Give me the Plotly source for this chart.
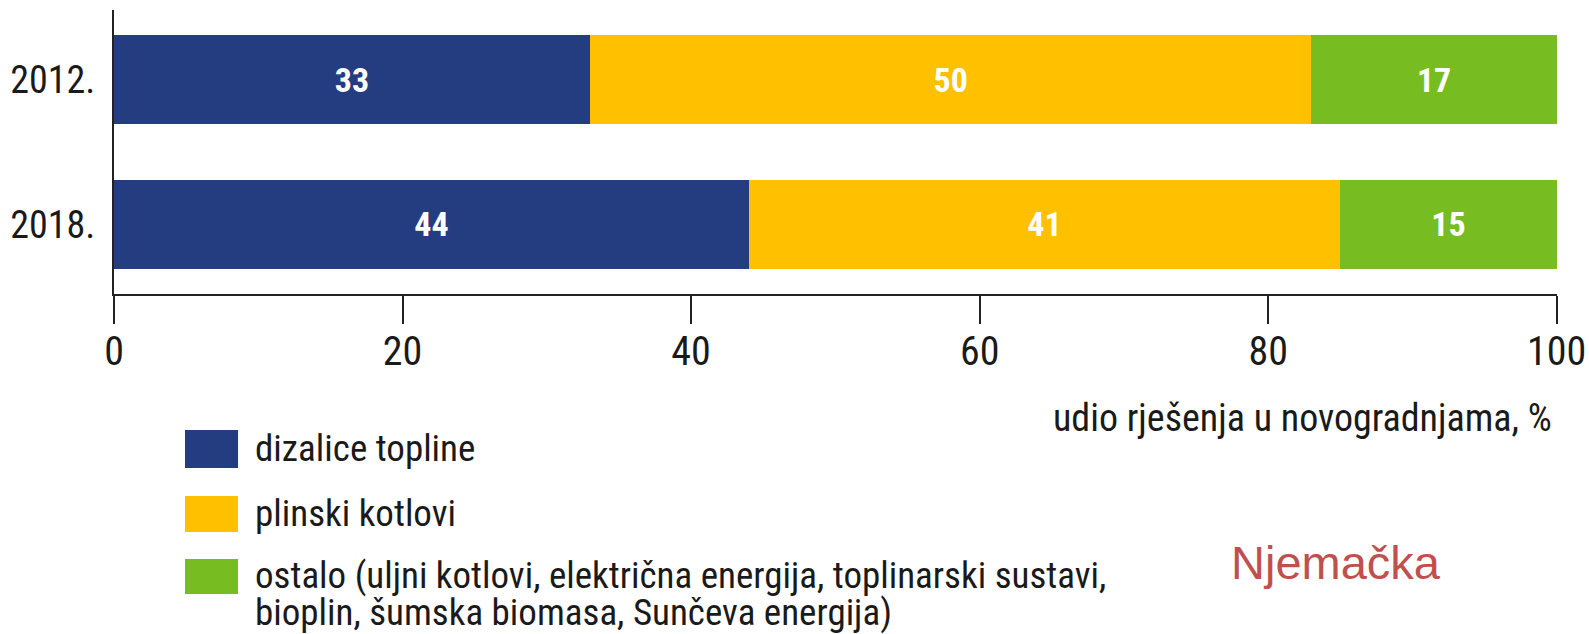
import plotly.graph_objects as go

categories = ["2012.", "2018."]
series_names = ["dizalice topline", "plinski kotlovi", "ostalo"]
legend_lines = [
    ["dizalice topline"],
    ["plinski kotlovi"],
    ["ostalo (uljni kotlovi, električna energija, toplinarski sustavi,",
     "bioplin, šumska biomasa, Sunčeva energija)"],
]
dizalice = [33, 44]
plinski = [50, 41]
ostalo = [17, 15]
colors = ["#243C80", "#FFC000", "#77BD22"]
x_ticks = [0, 20, 40, 60, 80, 100]
x_ticktext = ["0", "20", "40", "60", "80", "100"]
x_title = "udio rješenja u novogradnjama, %"
country = "Njemačka"

W, H = 1589, 634
# plot area in window pixels
PX0, PX1, PY0, PY1 = 114, 1557, 10, 294
L, R, T, B = PX0, W - PX1, PY0, H - PY1
PW, PH = W - L - R, H - T - B

def px(x):
    return (x - L) / PW

def py(y):
    return (H - B - y) / PH

FONT = "Roboto Condensed, DejaVu Sans Condensed, sans-serif"
TXT = "#1a1a1a"

fig = go.Figure()
for name, vals, col in zip(series_names, [dizalice, plinski, ostalo], colors):
    fig.add_trace(go.Bar(
        y=categories, x=vals, orientation="h", name=name,
        marker=dict(color=col, line=dict(width=0)),
        width=0.61,
        text=[str(v) for v in vals], textposition="inside",
        insidetextanchor="middle",
        textfont=dict(family=FONT, size=34, color="white", weight="bold"),
        showlegend=False,
    ))

fig.update_layout(
    barmode="stack",
    width=W, height=H,
    margin=dict(l=L, r=R, t=T, b=B),
    plot_bgcolor="white", paper_bgcolor="white",
    font=dict(family=FONT, color=TXT),
    xaxis=dict(range=[0, 100.02], tickvals=x_ticks, ticktext=x_ticktext,
               automargin=False, ticklabeloverflow="allow", ticklabelstandoff=-7,
               showgrid=False, zeroline=False, showline=True, linecolor="#222", linewidth=2,
               ticks="outside", ticklen=28, tickwidth=2, tickcolor="#222",
               tickfont=dict(size=40, family=FONT, color=TXT)),
    yaxis=dict(range=[1.48, -0.48], showgrid=False, zeroline=False, showline=True,
               automargin=False,
               linecolor="#222", linewidth=2, ticks="", ticklabelstandoff=9,
               tickfont=dict(size=38, family=FONT, color=TXT)),
)

annotations = [
    dict(text=x_title, x=px(1554), y=py(418), xref="paper", yref="paper",
         xanchor="right", yanchor="middle", showarrow=False,
         font=dict(size=38, family=FONT, color=TXT)),
    dict(text=country, x=px(1229), y=py(562), xref="paper", yref="paper",
         xanchor="left", yanchor="middle", showarrow=False,
         font=dict(size=47, family="Liberation Sans, Arial, sans-serif", color="#C0504D")),
]
shapes = []
leg_boxes = [(430, 468), (496, 532), (559, 594)]
leg_text_y = [[448], [513], [575, 613]]
for (y0, y1), lines, tys, col in zip(leg_boxes, legend_lines, leg_text_y, colors):
    shapes.append(dict(type="rect", xref="paper", yref="paper",
                       x0=px(185), x1=px(238), y0=py(y1), y1=py(y0),
                       fillcolor=col, line=dict(width=0)))
    for line, ty in zip(lines, tys):
        annotations.append(dict(text=line, x=px(253), y=py(ty), xref="paper", yref="paper",
                                xanchor="left", yanchor="middle", align="left", showarrow=False,
                                font=dict(size=37, family=FONT, color=TXT)))
fig.update_layout(annotations=annotations, shapes=shapes)

fig.write_html("out.html", config={"displayModeBar": False},
               post_script="document.body.style.margin='0';document.body.style.overflow='hidden';")
